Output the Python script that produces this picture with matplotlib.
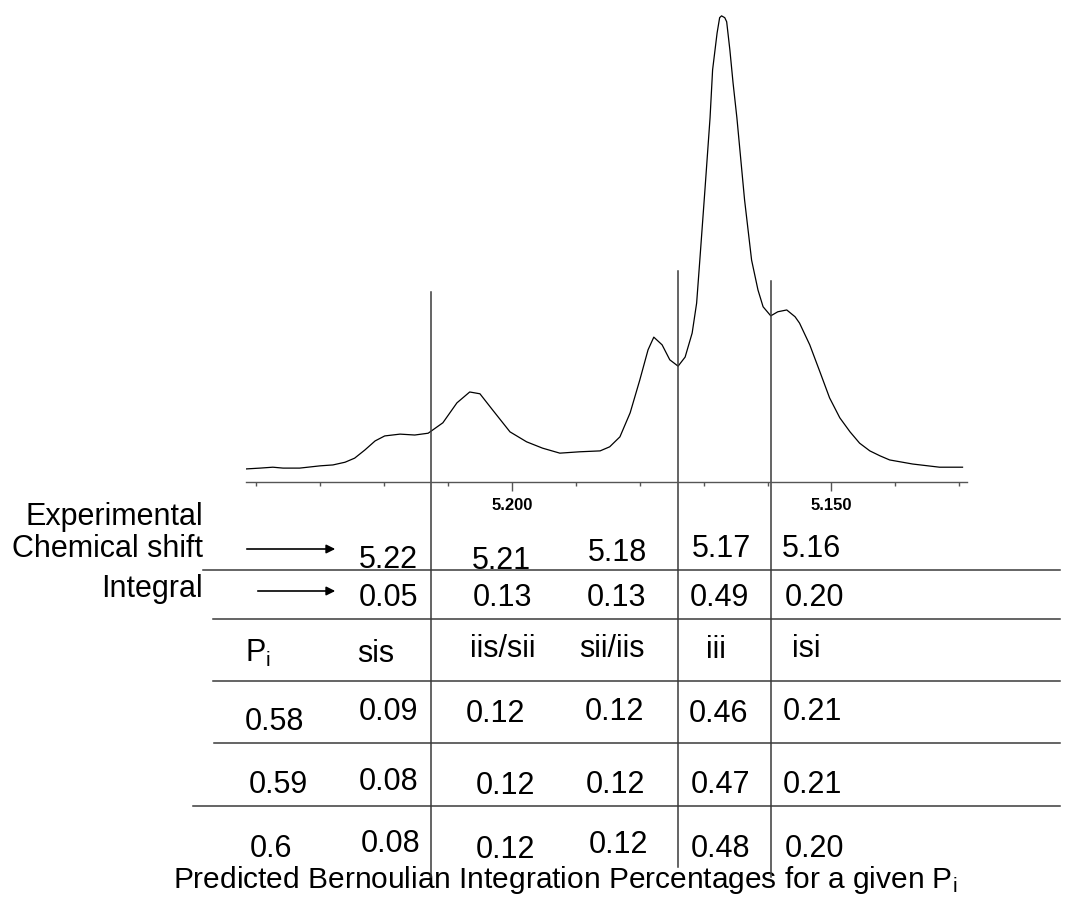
import matplotlib
matplotlib.use('Agg')
from matplotlib import pyplot as plt
from matplotlib.ticker import MultipleLocator, FormatStrFormatter

plt.rcParams['font.family'] = ['Liberation Sans', 'DejaVu Sans']
plt.rcParams['mathtext.fontset'] = 'custom'
plt.rcParams['mathtext.rm'] = 'Liberation Sans'
plt.rcParams['mathtext.it'] = 'Liberation Sans'

# 1H NMR trace (ppm, intensity in % of tallest peak)
ppm = [5.2418, 5.2394, 5.2374, 5.2358, 5.2332, 5.2300, 5.2280, 5.2261,
       5.2246, 5.2230, 5.2214, 5.2199, 5.2175, 5.2152, 5.2131, 5.2108,
       5.2086, 5.2066, 5.2050, 5.2030, 5.2003, 5.1977, 5.1952, 5.1925,
       5.1894, 5.1862, 5.1847, 5.1831, 5.1815, 5.1800, 5.1787, 5.1778,
       5.1765, 5.1753, 5.1740, 5.1729, 5.1718, 5.1711, 5.1706, 5.1698,
       5.1690, 5.1686, 5.1679, 5.1675, 5.1672, 5.1667, 5.1664, 5.1659,
       5.1654, 5.1648, 5.1636, 5.1625, 5.1615, 5.1607, 5.1595, 5.1584,
       5.1570, 5.1557, 5.1550, 5.1534, 5.1518, 5.1503, 5.1487, 5.1471,
       5.1456, 5.1440, 5.1424, 5.1409, 5.1373, 5.1331, 5.1295]
intensity = [0.0, 0.2, 0.4, 0.2, 0.2, 0.7, 0.9, 1.5,
             2.4, 4.2, 6.2, 7.3, 7.7, 7.5, 7.9, 10.2,
             14.6, 17.0, 16.6, 13.0, 8.2, 6.0, 4.6, 3.5,
             3.8, 4.0, 4.9, 7.1, 12.4, 19.6, 26.3, 29.1,
             27.4, 24.1, 22.7, 24.7, 30.0, 36.6, 46.1, 61.6,
             77.5, 88.1, 96.2, 99.6, 100.0, 99.6, 98.7, 92.5,
             85.2, 77.5, 59.4, 46.1, 39.5, 35.8, 33.8, 34.7,
             35.1, 33.6, 32.2, 27.4, 21.4, 15.7, 11.3, 8.2,
             5.7, 4.0, 2.9, 2.0, 1.1, 0.4, 0.4]

# integration boundaries (ppm)
cuts = [5.2127, 5.1740, 5.1595]

shifts = ['5.22', '5.21', '5.18', '5.17', '5.16']
integrals = ['0.05', '0.13', '0.13', '0.49', '0.20']
triads = ['sis', 'iis/sii', 'sii/iis', 'iii', 'isi']
p_values = ['0.58', '0.59', '0.6']
predicted = [['0.09', '0.12', '0.12', '0.46', '0.21'],
             ['0.08', '0.12', '0.12', '0.47', '0.21'],
             ['0.08', '0.12', '0.12', '0.48', '0.20']]

W, H = 1066, 905
AX_Y = 481.7   # pixel row of the ppm axis
line_col = '#3a3a3a'
fs = 22

fig = plt.figure(figsize=(W / 100, H / 100), dpi=100)

# overlay in pixel units for the table part
tab = fig.add_axes([0, 0, 1, 1])
tab.set_xlim(0, W)
tab.set_ylim(H, 0)
tab.axis('off')

# spectrum
ax = fig.add_axes([246 / W, (H - AX_Y) / H, (967 - 246) / W, AX_Y / H])
ax.patch.set_alpha(0)
ax.plot(ppm, intensity, color='black', lw=0.9, solid_joinstyle='round')
ax.set_xlim(5.2416, 5.1288)
ax.set_ylim(-2.8, 103.5)
for s in ['top', 'right', 'left']:
    ax.spines[s].set_visible(False)
ax.spines['bottom'].set_color('#555555')
ax.spines['bottom'].set_linewidth(1.0)
ax.set_yticks([])
ax.xaxis.set_major_locator(MultipleLocator(0.05))
ax.xaxis.set_minor_locator(MultipleLocator(0.01))
ax.xaxis.set_major_formatter(FormatStrFormatter('%.3f'))
ax.tick_params(axis='x', which='major', length=6.5, width=1.0,
               color='#555555', pad=5.5, labelsize=12)
ax.tick_params(axis='x', which='minor', length=3.2, width=1.0,
               color='#555555')
for lab in ax.get_xticklabels():
    lab.set_fontweight('bold')


def fy(y):
    return (AX_Y - y) / AX_Y


# region dividers running down through the table
for c, top, bot in zip(cuts, [291.7, 271, 281], [877, 867, 877]):
    ax.axvline(c, ymin=fy(bot), ymax=fy(top), color=line_col, lw=1.1,
               clip_on=False)

# horizontal table rules
for y, x0 in [(570, 203), (619, 213), (681, 213), (743, 214), (806, 193)]:
    tab.plot([x0, 1060], [y, y], color=line_col, lw=1.1)

# left labels and arrows
tab.text(203, 525, 'Experimental', ha='right', va='baseline', fontsize=fs)
tab.text(203, 557, 'Chemical shift', ha='right', va='baseline', fontsize=fs)
tab.text(203, 597, 'Integral', ha='right', va='baseline', fontsize=fs)
arrow = dict(arrowstyle='-|>', lw=1.2, color='black', mutation_scale=13)
tab.annotate('', xy=(338, 549), xytext=(244, 549), arrowprops=arrow)
tab.annotate('', xy=(338, 591), xytext=(255, 591), arrowprops=arrow)

# experimental rows
shift_x = [388, 501, 617, 721, 811]
shift_base = [568, 569, 561, 557, 557]
int_x = [388, 502, 616, 719, 814]
for t, x, y in zip(shifts, shift_x, shift_base):
    tab.text(x, y, t, ha='center', va='baseline', fontsize=fs)
for t, x in zip(integrals, int_x):
    tab.text(x, 606, t, ha='center', va='baseline', fontsize=fs)

# predicted table
tab.text(245, 662, r'P$_\mathrm{i}$', ha='left', va='baseline', fontsize=fs)
head_x = [376, 503, 612, 716, 806]
head_base = [662, 657, 657, 658, 657]
for t, x, y in zip(triads, head_x, head_base):
    tab.text(x, y, t, ha='center', va='baseline', fontsize=fs)

row_x = [[274, 388, 495, 614, 719, 812],
         [278, 389, 505, 615, 720, 812],
         [271, 391, 505, 618, 720, 814]]
row_base = [[730, 720, 722, 720, 722, 720],
            [793, 790, 794, 793, 793, 793],
            [857, 852, 858, 853, 857, 857]]
for p, vals, xs, ys in zip(p_values, predicted, row_x, row_base):
    for t, x, y in zip([p] + vals, xs, ys):
        tab.text(x, y, t, ha='center', va='baseline', fontsize=fs)

tab.text(565, 888, r'Predicted Bernoulian Integration Percentages for a given P$_\mathrm{i}$',
         ha='center', va='baseline', fontsize=21.5)

fig.savefig('out.png', dpi=100)
